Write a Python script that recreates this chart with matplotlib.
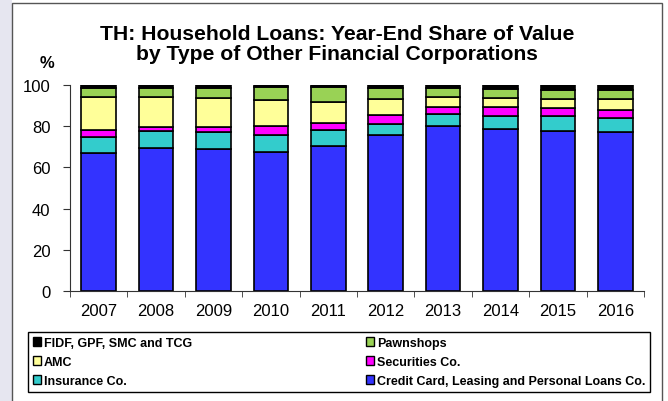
import matplotlib.pyplot as plt
from matplotlib.patches import Patch, Rectangle
import numpy as np

plt.rcParams['font.family'] = ['Liberation Sans', 'DejaVu Sans']

years = ['2007', '2008', '2009', '2010', '2011', '2012', '2013', '2014', '2015', '2016']
credit_card = [67.1, 69.5, 68.9, 67.6, 70.6, 75.5, 80.1, 78.8, 77.9, 77.0]
insurance = [7.8, 8.3, 8.3, 8.2, 7.5, 5.8, 5.8, 6.3, 7.0, 7.1]
securities = [3.4, 1.6, 2.5, 4.3, 3.4, 3.9, 3.2, 4.0, 4.1, 4.0]
amc = [15.9, 14.6, 14.0, 12.4, 10.4, 7.8, 4.9, 4.6, 4.3, 5.1]
pawnshops = [4.5, 4.7, 5.0, 6.3, 6.9, 5.5, 4.7, 4.3, 4.4, 4.5]
fidf = [1.3, 1.3, 1.3, 1.2, 1.2, 1.5, 1.3, 2.0, 2.3, 2.3]

series = [
    ('Credit Card, Leasing and Personal Loans Co.', credit_card, '#3333ff'),
    ('Insurance Co.', insurance, '#33cccc'),
    ('Securities Co.', securities, '#ff00ff'),
    ('AMC', amc, '#ffff99'),
    ('Pawnshops', pawnshops, '#99d255'),
    ('FIDF, GPF, SMC and TCG', fidf, '#000000'),
]

W, H = 668, 402
fig = plt.figure(figsize=(W / 100, H / 100), dpi=100)

# background strip on the left and the chart frame
fig.patches.append(Rectangle((0, 0), 12 / W, 1, transform=fig.transFigure,
                             facecolor='#e6e6f0', edgecolor='none', zorder=-2))
fig.patches.append(Rectangle((12 / W, -0.05), 650 / W, 1.05 - 4 / H, transform=fig.transFigure,
                             facecolor='white', edgecolor='#555555', linewidth=1.0, zorder=-1))

ax = fig.add_axes([70 / W, 1 - 292 / H, 574 / W, 206 / H])
ax.set_facecolor('none')

x = np.arange(len(years))
bottom = np.zeros(len(years))
handles = {}
for name, vals, col in series:
    ax.bar(x, vals, 0.6, bottom=bottom, color=col, edgecolor='black', linewidth=1.2)
    bottom += np.array(vals)
    handles[name] = Patch(facecolor=col, edgecolor='black', linewidth=1.0)

ax.set_xlim(-0.5, len(years) - 0.5)
ax.set_ylim(0, 100)
ax.set_yticks([0, 20, 40, 60, 80, 100])
ax.set_xticks(x)
ax.set_xticklabels(years)
ax.set_xticks(np.arange(len(years) + 1) - 0.5, minor=True)
ax.tick_params(axis='x', which='major', length=0, pad=9, labelsize=12)
ax.tick_params(axis='x', which='minor', length=4, direction='out', color='#333333')
ax.tick_params(axis='y', length=5, direction='out', pad=9, labelsize=12, color='#333333')
for s in ['top', 'right']:
    ax.spines[s].set_visible(False)
ax.spines['left'].set_color('#333333')
ax.spines['bottom'].set_color('#333333')

fig.text(0.505, 1 - 25 / H, 'TH: Household Loans: Year-End Share of Value\nby Type of Other Financial Corporations',
         ha='center', va='top', fontsize=15.2, fontweight='bold', linespacing=1.1)
fig.text(47 / W, 1 - 64 / H, '%', ha='center', va='center', fontsize=12, fontweight='bold')

order = ['FIDF, GPF, SMC and TCG', 'AMC', 'Insurance Co.',
         'Pawnshops', 'Securities Co.', 'Credit Card, Leasing and Personal Loans Co.']
leg = fig.legend([handles[n] for n in order], order, loc='upper left',
                 bbox_to_anchor=(28 / W, 1 - 391 / H, 622 / W, 58 / H), mode='expand',
                 ncol=2, fancybox=False, edgecolor='black', framealpha=1,
                 prop={'weight': 'bold', 'size': 9}, handlelength=0.65, handleheight=0.65,
                 handletextpad=0.2, labelspacing=0.55, borderpad=0.4, borderaxespad=0)
leg.get_frame().set_linewidth(1.0)

fig.savefig('out.png', dpi=100)
